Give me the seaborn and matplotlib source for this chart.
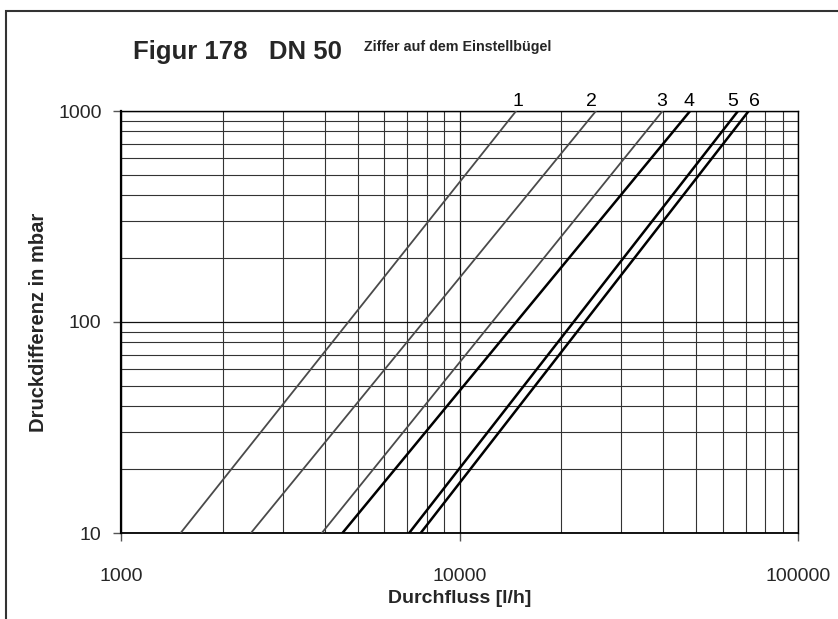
import matplotlib
matplotlib.use("Agg")
import matplotlib.pyplot as plt
import seaborn as sns
import pandas as pd
from matplotlib.ticker import FixedLocator, NullFormatter, LogLocator
from matplotlib.patches import Rectangle

# Data: flow [l/h] at 10 mbar and at 1000 mbar for each setting
settings = ["1", "2", "3", "4", "5", "6"]
dp_points = [10, 1000]
flow_at_10 = [1500, 2420, 3920, 4510, 7100, 7680]
flow_at_1000 = [14700, 25300, 39800, 48000, 66500, 71500]

x_ticks = [1000, 10000, 100000]
y_ticks = [10, 100, 1000]
title_text = "Figur 178   DN 50"
subtitle_text = "Ziffer auf dem Einstellbügel"
xlabel_text = "Durchfluss [l/h]"
ylabel_text = "Druckdifferenz in mbar"

rows = []
for s, f0, f1 in zip(settings, flow_at_10, flow_at_1000):
    rows.append({"setting": s, "flow": f0, "dp": dp_points[0]})
    rows.append({"setting": s, "flow": f1, "dp": dp_points[1]})
df = pd.DataFrame(rows)

sns.set_theme(style="white")
plt.rcParams['font.family'] = ['Liberation Sans', 'DejaVu Sans']

fig = plt.figure(figsize=(8.38, 6.19), dpi=100)
ax = fig.add_axes([121/838, 1-533/619, (798-121)/838, (533-111)/619])

line_colors = ["#4a4a4a", "#4a4a4a", "#4a4a4a", "#000000", "#000000", "#000000"]
line_widths = [1.3, 1.3, 1.3, 1.8, 1.8, 1.8]
label_dx = [1, -3, -1, -1, -4, 4]

for i, s in enumerate(settings):
    sub = df[df["setting"] == s]
    sns.lineplot(data=sub, x="flow", y="dp", ax=ax, color=line_colors[i],
                 linewidth=line_widths[i], legend=False, zorder=5)

ax.set_xscale("log")
ax.set_yscale("log")
ax.set_xlim(1000, 100000)
ax.set_ylim(10, 1000)

ax.xaxis.set_major_locator(FixedLocator(x_ticks))
ax.yaxis.set_major_locator(FixedLocator(y_ticks))
ax.set_xticklabels([str(v) for v in x_ticks])
ax.set_yticklabels([str(v) for v in y_ticks])
ax.xaxis.set_minor_locator(LogLocator(base=10, subs=range(2, 10)))
ax.yaxis.set_minor_locator(LogLocator(base=10, subs=range(2, 10)))
ax.xaxis.set_minor_formatter(NullFormatter())
ax.yaxis.set_minor_formatter(NullFormatter())

ax.grid(True, which="major", color="#111111", linewidth=0.9)
ax.grid(True, which="minor", color="#333333", linewidth=0.8)
ax.tick_params(which="major", direction="out", length=6, width=1, color="#555555",
               labelsize=14, bottom=True, left=True)
ax.tick_params(axis="x", which="major", pad=19)
ax.tick_params(axis="y", which="major", pad=8)
ax.tick_params(which="minor", length=0)

for side, sp in ax.spines.items():
    sp.set_color("black")
    sp.set_linewidth(1.0)
ax.spines["left"].set_linewidth(1.6)
ax.spines["bottom"].set_linewidth(1.3)

ax.set_xlabel(xlabel_text, fontsize=14, fontweight="bold", labelpad=4)
ax.set_ylabel(ylabel_text, fontsize=14.5, fontweight="bold", labelpad=7)

for i, s in enumerate(settings):
    ax.annotate(s, xy=(flow_at_1000[i], dp_points[1]), xytext=(label_dx[i], 1),
                textcoords="offset points", ha="center", va="bottom",
                fontsize=14, color="black", annotation_clip=False)

fig.text(133/838, 1-52/619, title_text, fontsize=18.5, fontweight="bold",
         ha="left", va="center")
fig.text(364/838, 1-47/619, subtitle_text, fontsize=10.3, fontweight="bold",
         ha="left", va="center")

fig.patches.append(Rectangle((6/838, -0.1), 1.2, 1 - 11/619 + 0.1,
                             transform=fig.transFigure, fill=False,
                             edgecolor="#333333", linewidth=1.5))

fig.savefig("out.png", dpi=100)
